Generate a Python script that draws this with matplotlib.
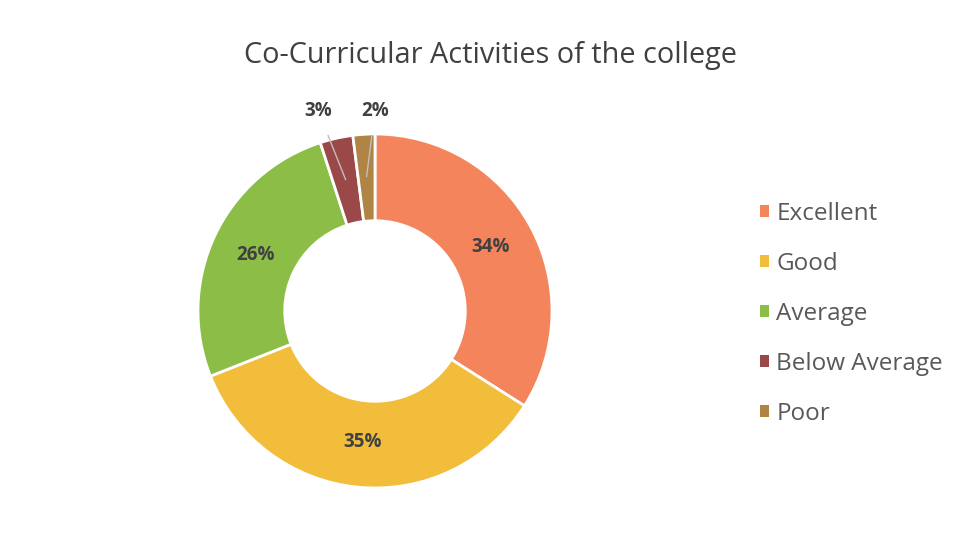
import numpy as np
import matplotlib.pyplot as plt
from matplotlib.patches import Patch

# ---------------------------------------------------------------------------
# Data (percent of responses)
# ---------------------------------------------------------------------------
categories = ["Excellent", "Good", "Average", "Below Average", "Poor"]
values = [34, 35, 26, 3, 2]
colors = ["#F4845C", "#F3BD3C", "#8CBD47", "#9A4848", "#B08444"]

title = "Co-Curricular Activities of the college"

plt.rcParams["font.family"] = ["Open Sans", "DejaVu Sans"]

fig = plt.figure(figsize=(9.58, 5.39), dpi=100)
fig.patch.set_facecolor("white")

# donut axes placed in pixel terms: centre (375, 311), radius ~177 px
W, H = 958, 539
ax = fig.add_axes([198 / W, (H - 488) / H, 354 / W, 354 / H])

wedges, _ = ax.pie(
    values, colors=colors, startangle=90, counterclock=False,
    radius=1.0, wedgeprops=dict(width=0.49, edgecolor="white", linewidth=2),
)
ax.set_xlim(-1, 1)
ax.set_ylim(-1, 1)
ax.set_aspect("equal")
ax.axis("off")

# labels: inside the ring for big slices, outside with leader lines for small
outside = {3: (-0.32, 1.13), 4: (0.0, 1.13)}
for i, (w, v) in enumerate(zip(wedges, values)):
    mid = np.deg2rad((w.theta1 + w.theta2) / 2)
    label = f"{v}%"
    if i in outside:
        tx, ty = outside[i]
        px, py = 0.76 * np.cos(mid), 0.76 * np.sin(mid)
        ax.annotate(label, xy=(px, py), xytext=(tx, ty),
                    ha="center", va="center", fontsize=13.5, fontweight="bold",
                    color="#404040",
                    arrowprops=dict(arrowstyle="-", color="#BFBFBF", lw=1,
                                    shrinkA=9, shrinkB=0))
    else:
        ax.text(0.745 * np.cos(mid), 0.745 * np.sin(mid), label,
                ha="center", va="center", fontsize=13.5, fontweight="bold",
                color="#404040")

fig.text(490 / W, 1 - 55 / H, title, ha="center", va="center",
         fontsize=20.8, color="#404040")

handles = [Patch(facecolor=c, edgecolor="none") for c in colors]
fig.legend(handles, categories, loc="center left",
           bbox_to_anchor=(738 / W, 1 - 314 / H), frameon=False,
           fontsize=17.5, labelcolor="#595959", handlelength=0.38,
           handleheight=0.38, handletextpad=0.3, labelspacing=1.07)

fig.savefig("out.png", dpi=100)
